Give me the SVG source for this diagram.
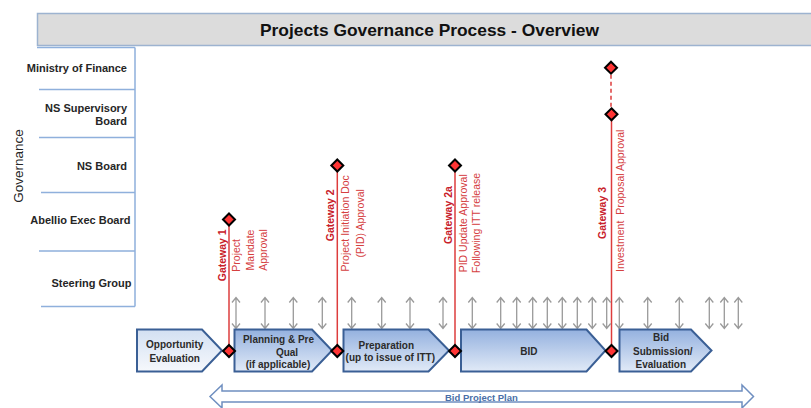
<svg xmlns="http://www.w3.org/2000/svg" xmlns:xlink="http://www.w3.org/1999/xlink" width="811" height="408" viewBox="0 0 811 408">
<style>
.lane{stroke:#8fb0dc;stroke-width:1.5;fill:none}
.lbl{font-family:"Liberation Sans",Arial,sans-serif;font-weight:bold;font-size:11px;fill:#262626;text-anchor:end}
.gw{font-family:"Liberation Sans",Arial,sans-serif;font-weight:bold;font-size:10.5px;fill:#c8202a;text-anchor:middle}
.gd{font-family:"Liberation Sans",Arial,sans-serif;font-size:10.5px;fill:#d5403f;text-anchor:middle;white-space:pre}
.gline{stroke:#dd3c3c;stroke-width:1.5;fill:none}
.dbl{stroke:#9a9a9a;stroke-width:1.3;fill:none}
.box{stroke:#3a5f95;stroke-width:2;fill:url(#gBox)}
.bt{font-family:"Liberation Sans",Arial,sans-serif;font-weight:bold;font-size:10px;fill:#2b2b2b;text-anchor:middle}
</style>
<defs>
<linearGradient id="gBox" x1="0" y1="0" x2="0" y2="1">
<stop offset="0" stop-color="#94b1df"/>
<stop offset="1" stop-color="#e1eaf7"/>
</linearGradient>
<linearGradient id="gOpp" x1="0" y1="0" x2="0" y2="1">
<stop offset="0" stop-color="#d3e0f2"/>
<stop offset="1" stop-color="#f6f8fc"/>
</linearGradient>
<path id="dia" d="M0,-6 L6,0 L0,6 L-6,0 Z" fill="#ff3535" stroke="#000" stroke-width="2"/>
<path id="dbl" class="dbl" d="M0,-15.5 V15.5 M-4,-10.5 L0,-15.5 L4,-10.5 M-4,10.5 L0,15.5 L4,10.5"/>
</defs>
<rect width="811" height="408" fill="#ffffff"/>

<g id="title">
<rect x="37.5" y="13.5" width="780" height="32" fill="#dcdcdc" stroke="#9db3d0" stroke-width="1.5"/>
<text x="429.5" y="36" font-family="'Liberation Sans',Arial,sans-serif" font-weight="bold" font-size="16.5" fill="#111" text-anchor="middle" textLength="339" lengthAdjust="spacingAndGlyphs">Projects Governance Process - Overview</text>
</g>

<g id="lanes">
<path class="lane" d="M37,47.5 H135 M39,89.5 H135 M39,137.5 H135 M41,192.5 H135 M39,251 H135 M41,306.5 H135 M135,47.5 V306.5"/>
<text transform="translate(23,166) rotate(-90)" font-family="'Liberation Sans',Arial,sans-serif" font-size="13.5" fill="#262626" text-anchor="middle">Governance</text>
<text class="lbl" x="127" y="72">Ministry of Finance</text>
<text class="lbl" x="127" y="111.5">NS Supervisory</text>
<text class="lbl" x="127" y="125">Board</text>
<text class="lbl" x="127" y="170">NS Board</text>
<text class="lbl" x="130.5" y="224">Abellio Exec Board</text>
<text class="lbl" x="131.5" y="286.5">Steering Group</text>
</g>

<g id="connectors">
<path class="gline" d="M229,219.5 V351"/>
<path class="gline" d="M337.3,165.5 V351"/>
<path class="gline" d="M455,165.5 V351"/>
<path class="gline" d="M611.5,114.3 V351"/>
<path class="gline" d="M611,67.7 V114.3" stroke-dasharray="4,3"/>
<g id="dbl-arrows" transform="translate(0,313)">
<use xlink:href="#dbl" x="236"/>
<use xlink:href="#dbl" x="265"/>
<use xlink:href="#dbl" x="293.3"/>
<use xlink:href="#dbl" x="322.3"/>
<use xlink:href="#dbl" x="351.7"/>
<use xlink:href="#dbl" x="381.7"/>
<use xlink:href="#dbl" x="410"/>
<use xlink:href="#dbl" x="443"/>
<use xlink:href="#dbl" x="472.3"/>
<use xlink:href="#dbl" x="500.7"/>
<use xlink:href="#dbl" x="516.7"/>
<use xlink:href="#dbl" x="532.7"/>
<use xlink:href="#dbl" x="547.3"/>
<use xlink:href="#dbl" x="562.3"/>
<use xlink:href="#dbl" x="577.3"/>
<use xlink:href="#dbl" x="592.3"/>
<use xlink:href="#dbl" x="606.7"/>
<use xlink:href="#dbl" x="619.3"/>
<use xlink:href="#dbl" x="647.7"/>
<use xlink:href="#dbl" x="679.3"/>
<use xlink:href="#dbl" x="709.3"/>
<use xlink:href="#dbl" x="724.3"/>
<use xlink:href="#dbl" x="738.3"/>
</g>
</g>

<g id="box-opportunity">
<path d="M137,329.5 H202 L222,350.5 L202,371.5 H137 Z" fill="url(#gOpp)" stroke="#3a5f95" stroke-width="2"/>
<text class="bt" x="174.7" y="347.8">Opportunity</text>
<text class="bt" x="174.7" y="361.8">Evaluation</text>
</g>
<g id="box-planning">
<path class="box" d="M234.5,329.5 H312 L332,350.5 L312,371.5 H234.5 Z"/>
<text class="bt" x="278.5" y="342.8">Planning &amp; Pre</text>
<text class="bt" x="287" y="355.8">Qual</text>
<text class="bt" x="278" y="367.8" font-size="7.8">(if applicable)</text>
</g>
<g id="box-preparation">
<path class="box" d="M343.5,329.5 H428.5 L449,350.5 L428.5,371.5 H343.5 Z"/>
<text class="bt" x="386.3" y="348.5">Preparation</text>
<text class="bt" x="390.3" y="361.3" font-size="8.6">(up to issue of ITT)</text>
</g>
<g id="box-bid">
<path class="box" d="M461,329.5 H586.5 L605.5,350.5 L586.5,371.5 H461 Z"/>
<text class="bt" x="528.8" y="355.2">BID</text>
</g>
<g id="box-submission">
<path class="box" d="M619.5,329.5 H691 L711.5,350.5 L691,371.5 H619.5 Z"/>
<text class="bt" x="661" y="341.2">Bid</text>
<text class="bt" x="662.8" y="354.5">Submission/</text>
<text class="bt" x="660.8" y="367.5">Evaluation</text>
</g>

<g id="gateway-1">
<use xlink:href="#dia" x="229" y="219.5"/>
<use xlink:href="#dia" x="229" y="351"/>
<text class="gw" transform="translate(226,255.3) rotate(-90)">Gateway 1</text>
<text class="gd" transform="translate(240.3,255.3) rotate(-90)">Project</text>
<text class="gd" transform="translate(253.6,250) rotate(-90)">Mandate</text>
<text class="gd" transform="translate(266.9,250) rotate(-90)">Approval</text>
</g>
<g id="gateway-2">
<use xlink:href="#dia" x="337.3" y="165.5"/>
<use xlink:href="#dia" x="337.3" y="351"/>
<text class="gw" transform="translate(333.6,215.3) rotate(-90)">Gateway 2</text>
<text class="gd" transform="translate(349.3,223.3) rotate(-90)">Project Initiation Doc</text>
<text class="gd" transform="translate(363.6,223.3) rotate(-90)">(PID) Approval</text>
</g>
<g id="gateway-2a">
<use xlink:href="#dia" x="455" y="165.5"/>
<use xlink:href="#dia" x="455" y="351"/>
<text class="gw" transform="translate(451.9,215) rotate(-90)">Gateway 2a</text>
<text class="gd" transform="translate(466.9,223.3) rotate(-90)">PID Update Approval</text>
<text class="gd" transform="translate(480.3,223) rotate(-90)">Following ITT release</text>
</g>
<g id="gateway-3">
<use xlink:href="#dia" x="611" y="67.7"/>
<use xlink:href="#dia" x="611.5" y="114.3"/>
<use xlink:href="#dia" x="611.5" y="351"/>
<text class="gw" transform="translate(606.3,213) rotate(-90)">Gateway 3</text>
<text class="gd" transform="translate(623.6,200.8) rotate(-90)">Investment  Proposal Approval</text>
</g>

<g id="bid-project-plan">
<path d="M210,396.5 L222,385 V391 H742 V385 L753.5,396.5 L742,408 V402 H222 V408 Z" fill="#ffffff" stroke="#6f8fc0" stroke-width="1.5"/>
<text x="445" y="400.5" font-family="'Liberation Sans',Arial,sans-serif" font-weight="bold" font-size="9.5" fill="#4a6fa8">Bid Project Plan</text>
</g>
</svg>
